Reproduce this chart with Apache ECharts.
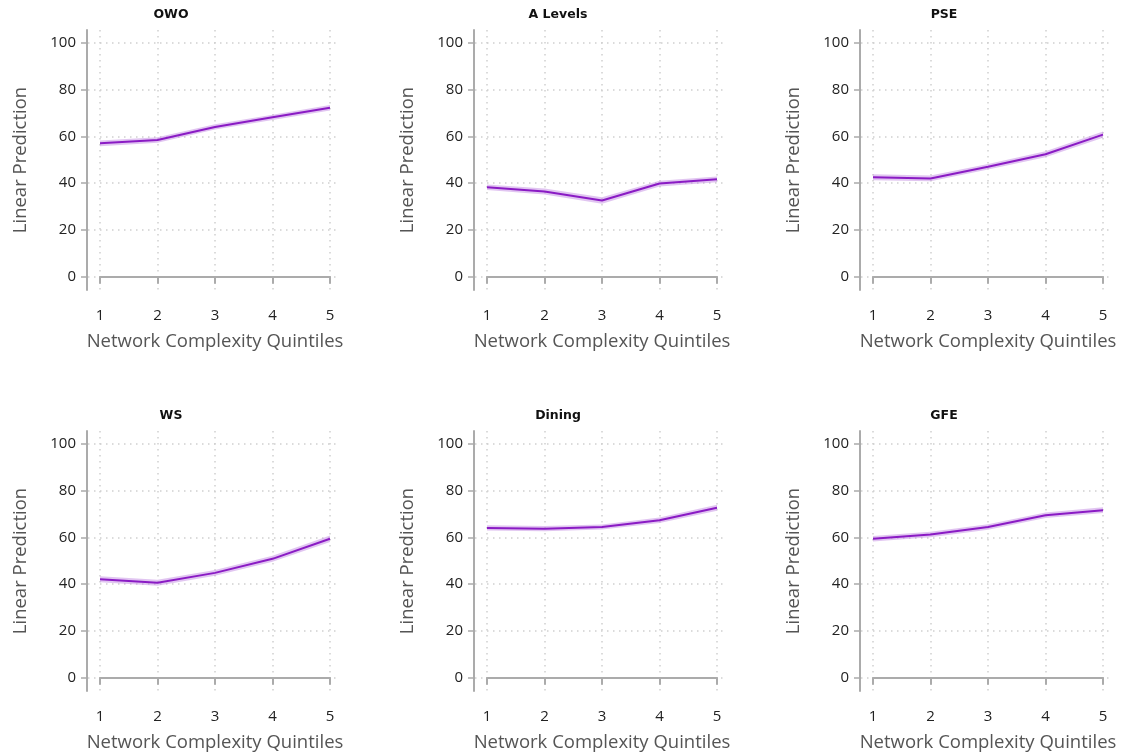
<!DOCTYPE html>
<html>
<head>
<meta charset="utf-8">
<script src="https://cdn.jsdelivr.net/npm/echarts@6/dist/echarts.min.js"></script>
<style>
html,body{margin:0;padding:0;background:#fff;}
#c{width:1126px;height:755px;}
</style>
</head>
<body>
<div id="c"></div>
<script>
// ---- data ----
const categories = ['1', '2', '3', '4', '5'];
const yTicks = [0, 20, 40, 60, 80, 100];
const titles = ['OWO', 'A Levels', 'PSE', 'WS', 'Dining', 'GFE'];

const owoMean   = [57.0, 58.4, 64.0, 68.1, 72.2];
const owoLow    = [55.8, 57.2, 62.9, 67.0, 71.0];
const owoHigh   = [58.2, 59.6, 65.1, 69.2, 73.4];

const aLevMean  = [38.2, 36.4, 32.6, 39.8, 41.6];
const aLevLow   = [37.0, 35.1, 31.2, 38.6, 40.4];
const aLevHigh  = [39.4, 37.7, 34.0, 41.0, 42.8];

const pseMean   = [42.5, 42.0, 47.0, 52.3, 60.7];
const pseLow    = [41.2, 40.8, 45.8, 51.0, 59.4];
const pseHigh   = [43.8, 43.2, 48.2, 53.6, 62.0];

const wsMean    = [42.1, 40.6, 44.8, 50.8, 59.4];
const wsLow     = [40.8, 39.3, 43.6, 49.5, 58.0];
const wsHigh    = [43.4, 41.9, 46.0, 52.1, 60.8];

const dinMean   = [64.0, 63.7, 64.4, 67.3, 72.6];
const dinLow    = [62.9, 62.6, 63.3, 66.1, 71.3];
const dinHigh   = [65.1, 64.8, 65.5, 68.5, 73.9];

const gfeMean   = [59.4, 61.2, 64.4, 69.4, 71.6];
const gfeLow    = [58.2, 60.0, 63.2, 68.2, 70.4];
const gfeHigh   = [60.6, 62.4, 65.6, 70.6, 72.8];

const panels = [
  {title: titles[0], mean: owoMean, low: owoLow, high: owoHigh},
  {title: titles[1], mean: aLevMean, low: aLevLow, high: aLevHigh},
  {title: titles[2], mean: pseMean, low: pseLow, high: pseHigh},
  {title: titles[3], mean: wsMean, low: wsLow, high: wsHigh},
  {title: titles[4], mean: dinMean, low: dinLow, high: dinHigh},
  {title: titles[5], mean: gfeMean, low: gfeLow, high: gfeHigh}
];

// ---- styling / layout ----
const FONT = '"Open Sans", "Noto Sans", sans-serif';
const AXIS_COLOR = '#ababab';
const GRID_COLOR = '#cfcfcf';
const LINE_COLOR = '#8a1bc4';
const BAND_COLOR = 'rgba(195,140,228,0.5)';
const colX = [0, 387, 773];
const rowY = [0, 401];
const PX_PER_UNIT = 234 / 100;

const grid = [], xAxis = [], yAxis = [], series = [], title = [];

panels.forEach((p, i) => {
  const ox = colX[i % 3], oy = rowY[Math.floor(i / 3)];
  const y100 = 42.7 + oy, y0 = y100 + 234;
  const top = 30 + oy, bottom = 291 + oy;
  const base = i * 3;

  // grid A: horizontal gridlines + y tick labels
  grid.push({left: 88 + ox, top: y100, width: 252, height: 234});
  xAxis.push({gridIndex: base, type: 'value', min: 0, max: 1, show: false});
  yAxis.push({
    gridIndex: base, type: 'value', min: yTicks[0], max: yTicks[yTicks.length - 1], interval: 20,
    axisLine: {show: false},
    axisTick: {show: true, length: 7, lineStyle: {color: AXIS_COLOR, width: 1.5}},
    axisLabel: {color: '#222', fontFamily: FONT, fontSize: 15, margin: 12},
    splitLine: {show: true, lineStyle: {color: GRID_COLOR, type: [1.5, 4.5], width: 1.5}}
  });

  // grid B: x axis (1..5) + vertical gridlines + data
  grid.push({left: 100 + ox, top: top, width: 230, height: bottom - top});
  xAxis.push({
    gridIndex: base + 1, type: 'category', data: categories, boundaryGap: false,
    axisLine: {show: true, lineStyle: {color: AXIS_COLOR, width: 2}},
    axisTick: {show: true, length: 7, lineStyle: {color: AXIS_COLOR, width: 2}},
    axisLabel: {color: '#222', fontFamily: FONT, fontSize: 15, margin: 17},
    splitLine: {show: true, lineStyle: {color: GRID_COLOR, type: [1.5, 4.5], width: 1.5}},
    name: 'Network Complexity Quintiles', nameLocation: 'middle', nameGap: 41,
    nameTextStyle: {color: '#555', fontFamily: FONT, fontSize: 18.5}
  });
  yAxis.push({
    gridIndex: base + 1, type: 'value',
    min: -(bottom - y0) / PX_PER_UNIT, max: 100 + (y100 - top) / PX_PER_UNIT,
    show: false
  });

  // grid C: y axis line + name
  grid.push({left: 87 + ox, top: top, width: 1, height: bottom - top - 1});
  xAxis.push({gridIndex: base + 2, type: 'value', show: false});
  yAxis.push({
    gridIndex: base + 2, type: 'value', min: 0, max: 1,
    axisLine: {show: true, lineStyle: {color: AXIS_COLOR, width: 2}},
    axisTick: {show: false}, axisLabel: {show: false}, splitLine: {show: false},
    name: 'Linear Prediction', nameLocation: 'middle', nameGap: 57,
    nameTextStyle: {color: '#555', fontFamily: FONT, fontSize: 18.5}
  });

  title.push({
    text: p.title, left: 171 + ox, top: 8 + oy, textAlign: 'center', padding: 0,
    textStyle: {fontFamily: '"DejaVu Sans", sans-serif', fontWeight: 'bold', fontSize: 12.5, color: '#111'}
  });

  const spanData = p.high.map((h, k) => h - p.low[k]);

  series.push({
    type: 'line', xAxisIndex: base + 1, yAxisIndex: base + 1, stack: 'band' + i,
    data: p.low, symbol: 'none', lineStyle: {opacity: 0}, silent: true
  });
  series.push({
    type: 'line', xAxisIndex: base + 1, yAxisIndex: base + 1, stack: 'band' + i,
    data: spanData, symbol: 'none', lineStyle: {opacity: 0},
    areaStyle: {color: BAND_COLOR, opacity: 1}, silent: true
  });
  series.push({
    type: 'line', xAxisIndex: base + 1, yAxisIndex: base + 1,
    data: p.mean, symbol: 'none', lineStyle: {color: LINE_COLOR, width: 2}
  });
});

const chart = echarts.init(document.getElementById('c'), null, {renderer: 'canvas'});
chart.setOption({
  animation: false,
  backgroundColor: '#fff',
  title, grid, xAxis, yAxis, series
});
</script>
</body>
</html>
